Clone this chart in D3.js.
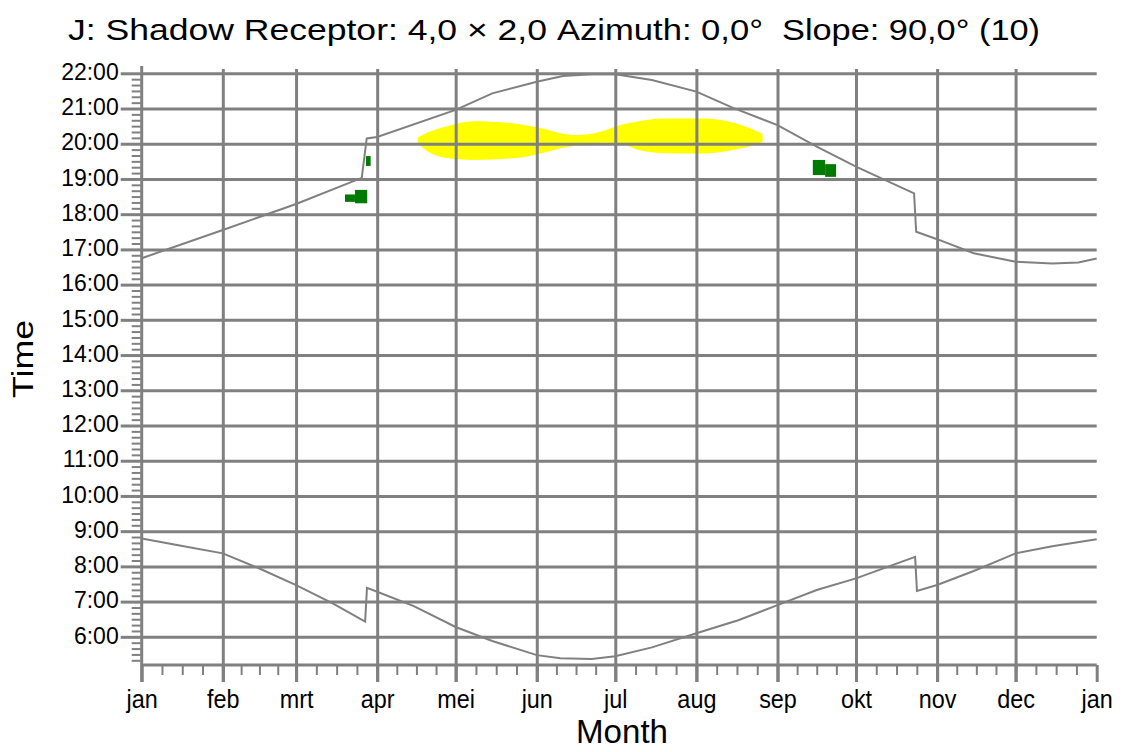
<!DOCTYPE html>
<html>
<head>
<meta charset="utf-8">
<script src="https://cdn.jsdelivr.net/npm/d3@7"></script>
<style>
  body { margin: 0; background: #fff; }
  text { font-family: "Liberation Sans", Arial, sans-serif; fill: #000; }
</style>
</head>
<body>
<div id="chart-area"></div>
<script>
// month axis (day of year where each month starts)
const monthLabels = ["jan", "feb", "mrt", "apr", "mei", "jun", "jul", "aug", "sep", "okt", "nov", "dec", "jan"];
const monthStarts = [0, 31, 59, 90, 120, 151, 181, 212, 243, 273, 304, 334, 365];
const hourTicks = [6, 7, 8, 9, 10, 11, 12, 13, 14, 15, 16, 17, 18, 19, 20, 21, 22];

// sunset (hours, local time) - DST jump end of march / end of october
const sunsetDays  = [0, 31, 59, 84.1, 86, 90, 120, 134, 151, 161, 172, 181, 195, 212, 226, 243, 258, 273, 295.2, 296, 304, 318, 334, 348, 358, 365];
const sunsetTimes = [16.75, 17.55, 18.29, 19.03, 20.15, 20.19, 20.96, 21.43, 21.76, 21.92, 21.97, 21.97, 21.81, 21.48, 21.02, 20.53, 19.92, 19.35, 18.59, 17.5, 17.29, 16.89, 16.65, 16.6, 16.63, 16.74];

// sunrise
const sunriseDays  = [0, 14, 31, 45, 59, 73, 85.4, 86.1, 90, 104, 120, 134, 151, 160, 172, 181, 195, 212, 228, 243, 258, 273, 295.6, 296.3, 304, 318, 334, 348, 365];
const sunriseTimes = [8.79, 8.6, 8.37, 7.94, 7.47, 6.95, 6.43, 7.39, 7.28, 6.87, 6.28, 5.88, 5.48, 5.39, 5.37, 5.45, 5.7, 6.1, 6.47, 6.9, 7.33, 7.66, 8.27, 7.3, 7.47, 7.87, 8.37, 8.57, 8.77];

// yellow shadow band (day, from, to)
const yellowDays = [105.5, 108, 110, 116, 127, 141, 150, 155, 160, 166, 171, 175, 183, 190, 200, 213, 221, 229, 234, 237.3];
const yellowFrom = [20.02, 19.85, 19.75, 19.6, 19.54, 19.58, 19.68, 19.77, 19.87, 19.94, 19.96, 20.03, 20.0, 19.82, 19.73, 19.72, 19.76, 19.87, 19.96, 20.06];
const yellowTo   = [20.18, 20.28, 20.34, 20.48, 20.64, 20.59, 20.48, 20.4, 20.3, 20.25, 20.27, 20.33, 20.53, 20.64, 20.72, 20.72, 20.68, 20.53, 20.39, 20.28];

// green shadow cells (start day, end day, from, to)
const greenStart = [77.7, 81.5, 85.7, 256.5, 261.2];
const greenEnd   = [81.5, 86.2, 87.5, 261.2, 265.4];
const greenFrom  = [18.35, 18.31, 19.37, 19.11, 19.06];
const greenTo    = [18.56, 18.69, 19.65, 19.54, 19.42];

const W = 1123, H = 752;
const margin = {left: 141.7, right: 1096.7, top: 73.3, bottom: 665};
const gray = "#808080";

const svg = d3.select("#chart-area")
  .append("svg")
    .attr("width", W)
    .attr("height", H);

const x = d3.scaleLinear().domain([0, 365]).range([margin.left, margin.right]);
const y = d3.scaleLinear().domain([5.2, 22]).range([margin.bottom, margin.top]);

// shadow areas first, grid goes over them
const yellow = yellowDays.map((d, i) => ({day: d, from: yellowFrom[i], to: yellowTo[i]}));
svg.append("path")
  .datum(yellow)
  .attr("fill", "#ffff00")
  .attr("d", d3.area()
    .x(d => x(d.day))
    .y0(d => y(d.from))
    .y1(d => y(d.to))
    .curve(d3.curveMonotoneX));

svg.selectAll("rect.green")
  .data(greenStart)
  .enter()
  .append("rect")
    .attr("class", "green")
    .attr("x", (d) => x(d))
    .attr("width", (d, i) => x(greenEnd[i]) - x(d))
    .attr("y", (d, i) => y(greenTo[i]))
    .attr("height", (d, i) => y(greenFrom[i]) - y(greenTo[i]))
    .attr("fill", "#007a00");

// horizontal grid
svg.append("g")
  .attr("transform", "translate(" + margin.left + ",0)")
  .attr("color", gray)
  .call(d3.axisLeft(y).tickValues(hourTicks).tickSize(-(margin.right - margin.left)).tickFormat(""))
  .call(g => g.select(".domain").remove())
  .selectAll("line").attr("stroke-width", 3);

// vertical grid (months), extending below axis as major ticks
svg.append("g")
  .attr("transform", "translate(0," + (margin.bottom + 17) + ")")
  .attr("color", gray)
  .call(d3.axisTop(x).tickValues(monthStarts.slice(1, 12)).tickSize(margin.bottom + 17 - 69).tickFormat(""))
  .call(g => g.select(".domain").remove())
  .selectAll("line").attr("stroke-width", 3);

// minor y ticks every 10 minutes
const minorY = [];
for (let m = 5 * 60 + 20; m < 22 * 60; m += 10) {
  if (m % 60 != 0) minorY.push(m / 60);
}
svg.append("g")
  .attr("transform", "translate(" + (margin.left - 1) + ",0)")
  .attr("color", gray)
  .call(d3.axisLeft(y).tickValues(minorY).tickSize(9).tickFormat(""))
  .call(g => g.select(".domain").remove())
  .selectAll("line").attr("stroke-width", 2);

// y axis with hour labels
const yAxis = svg.append("g")
  .attr("transform", "translate(" + margin.left + ",0)")
  .attr("color", gray)
  .call(d3.axisLeft(y).tickValues(hourTicks).tickSize(21).tickPadding(2)
    .tickFormat(d => d + ":00"));
yAxis.select(".domain").remove();
yAxis.selectAll("line").attr("stroke-width", 3);
yAxis.selectAll("text")
  .attr("font-size", "23px")
  .attr("dy", "0.27em")
  .attr("font-family", "Liberation Sans, Arial, sans-serif")
  .style("fill", "#000");

svg.append("line")
  .attr("x1", margin.left).attr("x2", margin.left)
  .attr("y1", 66).attr("y2", margin.bottom + 17)
  .attr("stroke", gray).attr("stroke-width", 3);

// quarter-month minor ticks
const minorX = [];
for (let i = 0; i < 12; i++) {
  const len = monthStarts[i + 1] - monthStarts[i];
  for (let k = 1; k < 4; k++) minorX.push(monthStarts[i] + len * k / 4);
}
svg.append("g")
  .attr("transform", "translate(0," + (margin.bottom + 1) + ")")
  .attr("color", gray)
  .call(d3.axisBottom(x).tickValues(minorX).tickSize(9).tickFormat(""))
  .call(g => g.select(".domain").remove())
  .selectAll("line").attr("stroke-width", 2);

// x axis with month labels
const xAxis = svg.append("g")
  .attr("transform", "translate(0," + margin.bottom + ")")
  .attr("color", gray)
  .call(d3.axisBottom(x).tickValues(monthStarts).tickSize(17).tickPadding(8)
    .tickFormat((d, i) => monthLabels[i]));
xAxis.select(".domain")
  .attr("d", "M" + margin.left + ",0H" + margin.right)
  .attr("stroke-width", 3);
xAxis.selectAll("line").attr("stroke-width", 3);
xAxis.selectAll("text")
  .attr("font-size", "26px")
  .attr("font-family", "Liberation Sans, Arial, sans-serif")
  .attr("transform", "scale(0.9,1)")
  .style("fill", "#000");

// sunrise / sunset curves
const line = d3.line().x(d => x(d[0])).y(d => y(d[1]));
svg.append("path")
  .datum(d3.zip(sunsetDays, sunsetTimes))
  .attr("fill", "none")
  .attr("stroke", gray)
  .attr("stroke-width", 2)
  .attr("d", line);
svg.append("path")
  .datum(d3.zip(sunriseDays, sunriseTimes))
  .attr("fill", "none")
  .attr("stroke", gray)
  .attr("stroke-width", 2)
  .attr("d", line);

// title and axis labels
const titleParts = [
  {t: "J: Shadow Receptor: 4,0 \u00d7 2,0", x: 68, len: 479},
  {t: "Azimuth: 0,0\u00b0", x: 557, len: 206},
  {t: "Slope: 90,0\u00b0 (10)", x: 782, len: 258}
];
svg.selectAll("text.title")
  .data(titleParts)
  .enter()
  .append("text")
    .attr("class", "title")
    .attr("x", d => d.x)
    .attr("y", 40)
    .attr("font-size", "29px")
    .attr("textLength", d => d.len)
    .attr("lengthAdjust", "spacingAndGlyphs")
    .text(d => d.t);

svg.append("text")
  .attr("x", 622)
  .attr("y", 743)
  .attr("font-size", "33px")
  .attr("text-anchor", "middle")
  .attr("textLength", 92)
  .attr("lengthAdjust", "spacingAndGlyphs")
  .text("Month");

svg.append("text")
  .attr("transform", "translate(33,359) rotate(-90)")
  .attr("font-size", "29px")
  .attr("text-anchor", "middle")
  .attr("textLength", 78)
  .attr("lengthAdjust", "spacingAndGlyphs")
  .text("Time");
</script>
</body>
</html>
